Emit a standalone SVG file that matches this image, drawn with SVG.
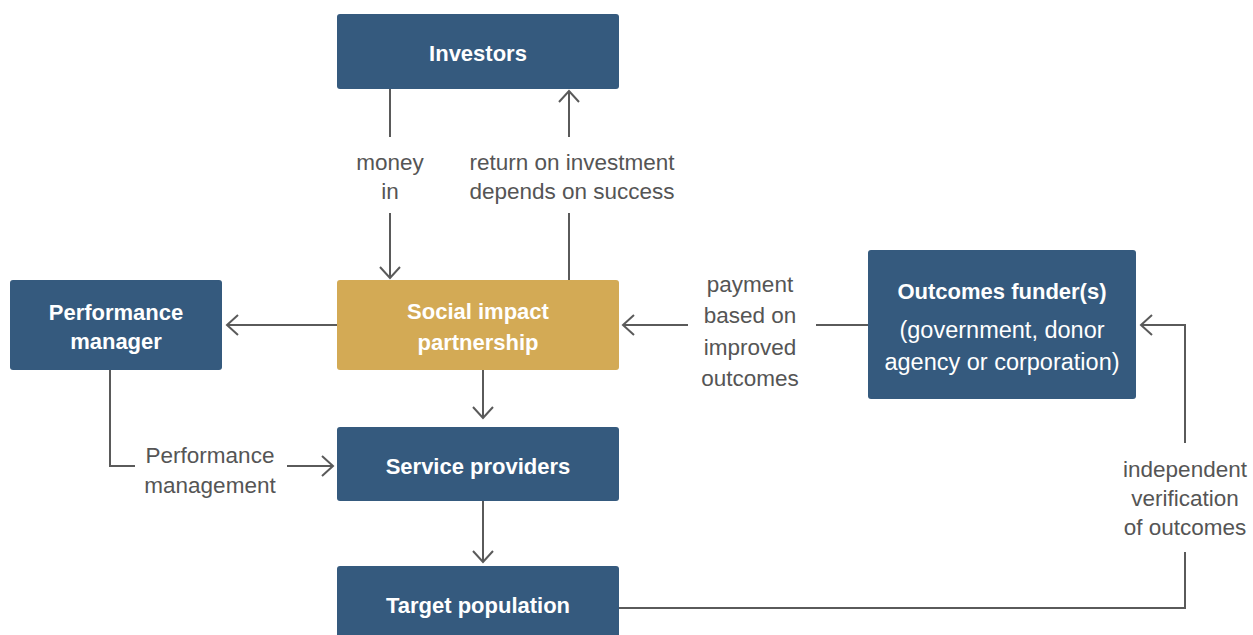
<svg xmlns="http://www.w3.org/2000/svg" width="1253" height="635" viewBox="0 0 1253 635">
<style>
.box{fill:#355a7e}
.gold{fill:#d3aa55}
.t{font-family:"Liberation Sans",Arial,sans-serif;font-weight:bold;font-size:22px;fill:#fff;text-anchor:middle}
.tr{font-family:"Liberation Sans",Arial,sans-serif;font-size:23.5px;fill:#fff;text-anchor:middle}
.l{font-family:"Liberation Sans",Arial,sans-serif;font-size:22.5px;fill:#555;text-anchor:middle}
.c{fill:none;stroke:#5a5a5a;stroke-width:2}
</style>
<defs>
<marker id="ah" markerWidth="14" markerHeight="22" refX="12" refY="11" orient="auto" markerUnits="userSpaceOnUse">
<path d="M1,1 L12,11 L1,21" fill="none" stroke="#5a5a5a" stroke-width="2"/>
</marker>
</defs>
<rect width="1253" height="635" fill="#fff"/>
<g id="connectors">
<path class="c" d="M390,89 V137"/>
<path class="c" d="M390,213 V278" marker-end="url(#ah)"/>
<path class="c" d="M569,280 V213"/>
<path class="c" d="M569,137 V91" marker-end="url(#ah)"/>
<path class="c" d="M337,325 H227" marker-end="url(#ah)"/>
<path class="c" d="M868,325 H816"/>
<path class="c" d="M688,325 H623" marker-end="url(#ah)"/>
<path class="c" d="M483,370 V418" marker-end="url(#ah)"/>
<path class="c" d="M110,370 V466 H135"/>
<path class="c" d="M287,466 H333" marker-end="url(#ah)"/>
<path class="c" d="M483,501 V562" marker-end="url(#ah)"/>
<path class="c" d="M619,608 H1185 V552"/>
<path class="c" d="M1185,443 V325 H1141" marker-end="url(#ah)"/>
<text class="l" x="390" y="170">money</text>
<text class="l" x="390" y="199">in</text>
<text class="l" x="572" y="170">return on investment</text>
<text class="l" x="572" y="199">depends on success</text>
<text class="l" x="750" y="292">payment</text>
<text class="l" x="750" y="323">based on</text>
<text class="l" x="750" y="355">improved</text>
<text class="l" x="750" y="386">outcomes</text>
<text class="l" x="210" y="463">Performance</text>
<text class="l" x="210" y="493">management</text>
<text class="l" x="1185" y="477">independent</text>
<text class="l" x="1185" y="506">verification</text>
<text class="l" x="1185" y="535">of outcomes</text>
</g>
<g id="investors">
<rect class="box" x="337" y="14" width="282" height="75" rx="3"/>
<text class="t" x="478" y="61">Investors</text>
</g>
<g id="sip">
<rect class="gold" x="337" y="280" width="282" height="90" rx="3"/>
<text class="t" x="478" y="319">Social impact</text>
<text class="t" x="478" y="350">partnership</text>
</g>
<g id="performance-manager">
<rect class="box" x="10" y="280" width="212" height="90" rx="3"/>
<text class="t" x="116" y="320">Performance</text>
<text class="t" x="116" y="349">manager</text>
</g>
<g id="service-providers">
<rect class="box" x="337" y="427" width="282" height="74" rx="3"/>
<text class="t" x="478" y="474">Service providers</text>
</g>
<g id="target-population">
<rect class="box" x="337" y="566" width="282" height="75" rx="3"/>
<text class="t" x="478" y="613">Target population</text>
</g>
<g id="outcomes-funder">
<rect class="box" x="868" y="250" width="268" height="149" rx="3"/>
<text class="t" x="1002" y="299">Outcomes funder(s)</text>
<text class="tr" x="1002" y="338">(government, donor</text>
<text class="tr" x="1002" y="370">agency or corporation)</text>
</g>
</svg>
